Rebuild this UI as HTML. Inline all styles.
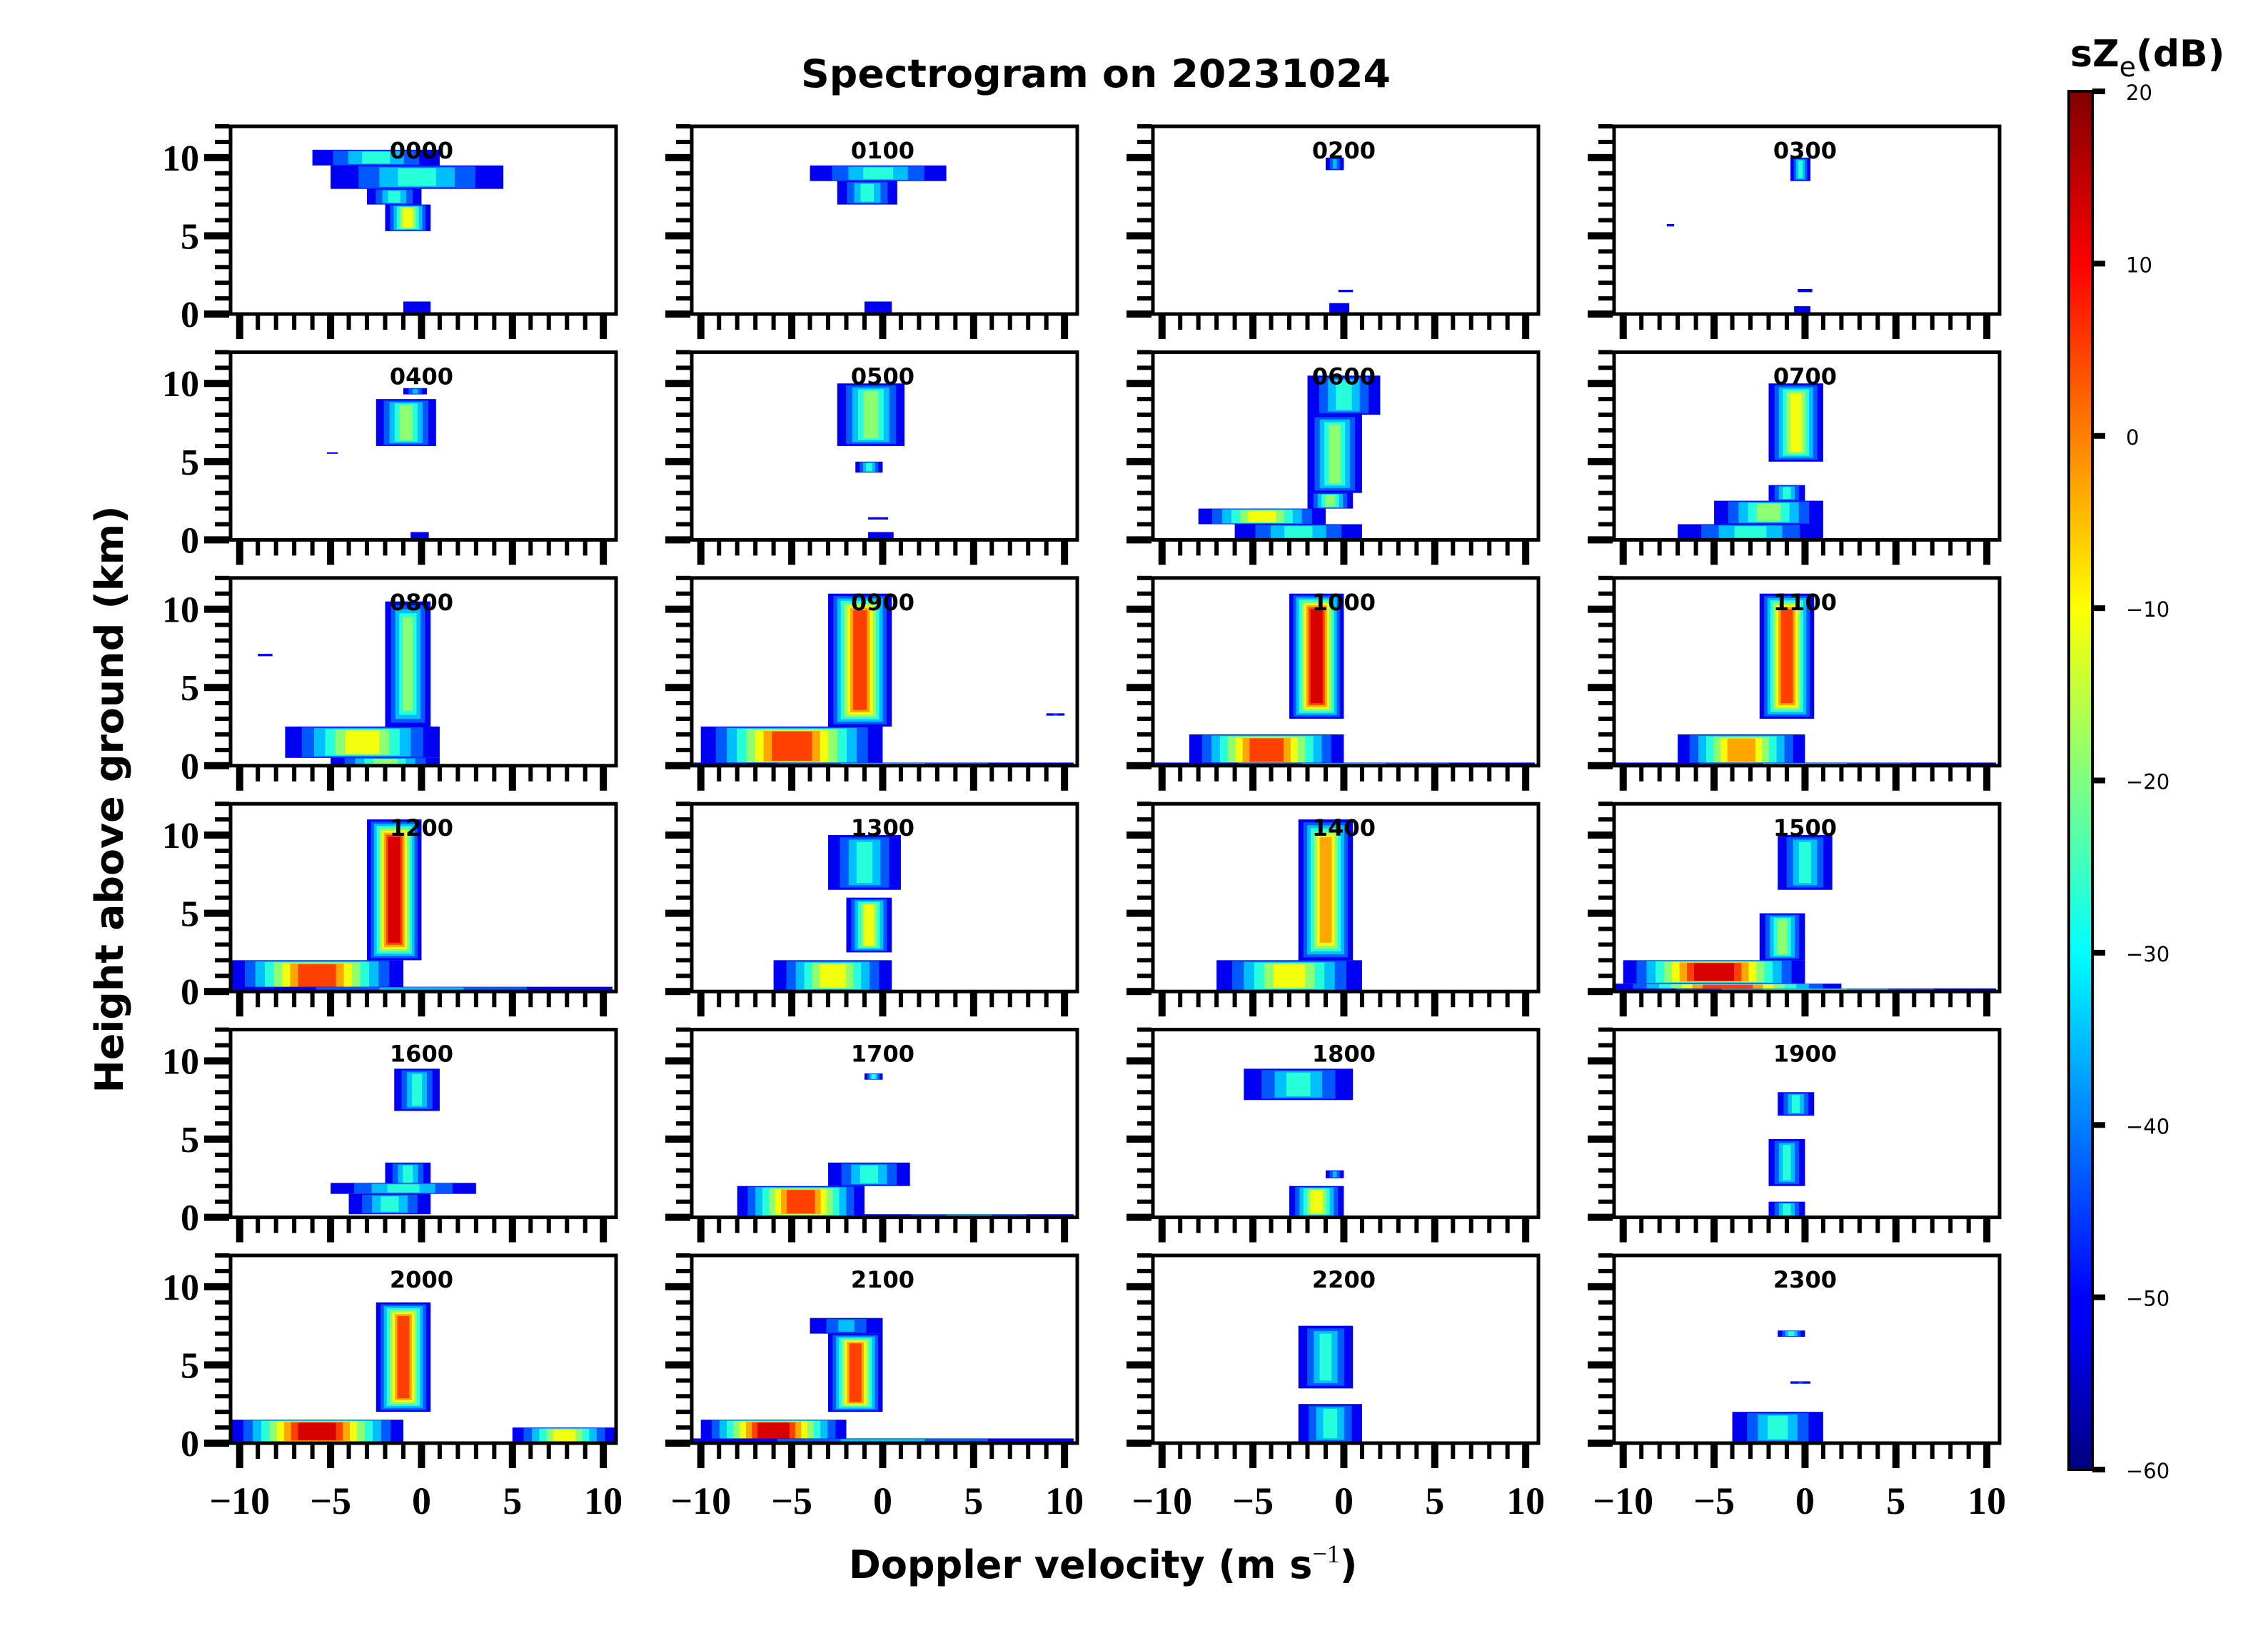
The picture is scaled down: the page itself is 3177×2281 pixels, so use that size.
<!DOCTYPE html>
<html><head><meta charset="utf-8"><style>
html,body{margin:0;padding:0;background:#fff;}
svg{display:block;}
</style></head><body>
<svg id="chart" width="3177" height="2281" viewBox="0 0 3177 2281" xmlns="http://www.w3.org/2000/svg">
<defs>
<linearGradient id="jet" x1="0" y1="1" x2="0" y2="0">
<stop offset="0" stop-color="#000080"/><stop offset="0.11" stop-color="#0000ff"/>
<stop offset="0.125" stop-color="#0000ff"/><stop offset="0.375" stop-color="#00ffff"/>
<stop offset="0.625" stop-color="#ffff00"/><stop offset="0.875" stop-color="#ff0000"/>
<stop offset="1" stop-color="#800000"/>
</linearGradient>
</defs>
<text x="1122" y="122" textLength="826" lengthAdjust="spacingAndGlyphs" font-family="DejaVu Sans, sans-serif" font-weight="bold" font-size="54">Spectrogram on 20231024</text>
<text x="1189" y="2211" font-family="DejaVu Sans, sans-serif" font-weight="bold" font-size="54">Doppler velocity (m s<tspan font-size="36" dy="-22" font-family="Liberation Serif, serif" font-weight="normal">−1</tspan><tspan dy="22">)</tspan></text>
<text transform="translate(172,1120) rotate(-90)" text-anchor="middle" textLength="823" lengthAdjust="spacingAndGlyphs" font-family="DejaVu Sans, sans-serif" font-weight="bold" font-size="54">Height above ground (km)</text>
<g id="panels"></g>
<g id="cbar"></g>
</svg>
<script>
const panelLabels = ["0000","0100","0200","0300","0400","0500","0600","0700","0800","0900","1000","1100","1200","1300","1400","1500","1600","1700","1800","1900","2000","2100","2200","2300"];
// segments per panel: [hBottom km, hTop km, vLeft m/s, vRight m/s, peak dB]
const seg0000 = [[9.5,10.5,-6,1,-30],[8,9.5,-5,4.5,-25],[7,8,-3,0,-30],[5.3,7,-2,0.5,-12],[0,0.8,-1,0.5,-50]];
const seg0100 = [[8.5,9.5,-4,3.5,-30],[7,8.5,-2.5,0.8,-28],[0,0.8,-1,0.5,-50]];
const seg0200 = [[9.2,10,-1,0,-35],[1.4,1.55,-0.3,0.5,-50],[0,0.7,-0.8,0.3,-50]];
const seg0300 = [[8.5,10,-0.8,0.3,-30],[1.4,1.6,-0.4,0.4,-50],[0,0.5,-0.6,0.3,-50],[5.6,5.75,-7.6,-7.2,-50]];
const seg0400 = [[9.3,9.7,-1,0.3,-35],[6,9,-2.5,0.8,-22],[5.5,5.6,-5.2,-4.6,-50],[0,0.5,-0.6,0.4,-50]];
const seg0500 = [[6,10,-2.5,1.2,-20],[4.3,5,-1.5,0,-30],[1.3,1.45,-0.8,0.3,-50],[0,0.5,-0.8,0.6,-50]];
const seg0600 = [[8,10.5,-2,2,-30],[3,8,-2,1,-22],[2,3,-2,0.5,-22],[1,2,-8,-1,-15],[0,1,-6,1,-30]];
const seg0700 = [[5,10,-2,1,-15],[2.5,3.5,-2,0,-25],[1,2.5,-5,1,-20],[0,1,-7,1,-30]];
const seg0800 = [[2.5,10.5,-2,0.5,-20],[0.5,2.5,-7.5,1,-8],[0,0.5,-5,1,-20],[7,7.15,-9,-8.2,-50]];
const seg0900 = [[2.5,11,-3,0.5,8],[0,2.5,-10,0,3],[0,0.2,-10.5,10.5,-35],[3.2,3.35,9,10,-45]];
const seg1000 = [[3,11,-3,0,10],[0,2,-8.5,0,3],[0,0.2,-10.5,10.5,-35]];
const seg1100 = [[3,11,-2.5,0.5,8],[0,2,-7,0,-5],[0,0.2,-10.5,10.5,-35]];
const seg1200 = [[2,11,-3,0,10],[0,2,-10.5,-1,6],[0,0.3,-10.5,10.5,-35]];
const seg1300 = [[6.5,10,-3,1,-30],[2.5,6,-2,0.5,-15],[0,2,-6,0.5,-10]];
const seg1400 = [[2,11,-2.5,0.5,-5],[0,2,-7,1,-8]];
const seg1500 = [[6.5,10,-1.5,1.5,-30],[2,5,-2.5,0,-20],[0.5,2,-10,0,10],[0,0.5,-10.5,2,5],[0,0.2,-10.5,10.5,-30]];
const seg1600 = [[6.8,9.5,-1.5,1,-30],[2,3.5,-2,0.5,-25],[1.5,2.2,-5,3,-25],[0.2,1.5,-4,0.5,-30]];
const seg1700 = [[8.8,9.2,-1,0,-30],[2,3.5,-3,1.5,-25],[0,2,-8,-1,3],[0,0.2,-1,10.5,-35]];
const seg1800 = [[7.5,9.5,-5.5,0.5,-25],[2.5,3,-1,0,-35],[0,2,-3,0,-15]];
const seg1900 = [[6.5,8,-1.5,0.5,-30],[2,5,-2,0,-30],[0,1,-2,0,-30]];
const seg2000 = [[2,9,-2.5,0.5,8],[0,1.5,-10.5,-1,12],[0,1,5,10.7,-15]];
const seg2100 = [[7,8,-4,0,-35],[2,7,-3,0,8],[0,1.5,-10,-2,12],[0,0.3,-10.5,10.5,-35]];
const seg2200 = [[3.5,7.5,-2.5,0.5,-25],[0,2.5,-2.5,1,-25]];
const seg2300 = [[6.8,7.2,-1.5,0,-30],[3.8,3.95,-0.8,0.3,-45],[0,2,-4,1,-30]];
const panelSegs = [seg0000,seg0100,seg0200,seg0300,seg0400,seg0500,seg0600,seg0700,seg0800,seg0900,seg1000,seg1100,seg1200,seg1300,seg1400,seg1500,seg1600,seg1700,seg1800,seg1900,seg2000,seg2100,seg2200,seg2300];
const xTickLabels = ["−10","−5","0","5","10"];
const xTickValues = [-10,-5,0,5,10];
const yTickValues = [0,5,10];
const cbarTicks = [20,10,0,-10,-20,-30,-40,-50,-60];

const NS="http://www.w3.org/2000/svg";
const XMIN=-10.5, XMAX=10.7, YMIN=0, YMAX=12;
const PW=540, PH=263, X0=323, Y0=177, DX=646, DY=316.4;
function mk(tag,attrs,parent){const e=document.createElementNS(NS,tag);for(const k in attrs)e.setAttribute(k,attrs[k]);parent.appendChild(e);return e;}
function jet(t){t=Math.max(0,Math.min(1,t));
  const f=(x)=>Math.max(0,Math.min(1,x));
  const r=f(Math.min(4*t-1.5,-4*t+4.5)),g=f(Math.min(4*t-0.5,-4*t+3.5)),b=f(Math.min(4*t+0.5,-4*t+2.5));
  return `rgb(${Math.round(r*255)},${Math.round(g*255)},${Math.round(b*255)})`;}
function dbT(v){return (v+60)/80;}
const panels=document.getElementById('panels');
panelLabels.forEach((lab,i)=>{
  const r=Math.floor(i/4),c=i%4;
  const px=X0+c*DX, py=Y0+r*DY;
  const sx=v=>px+(v-XMIN)/(XMAX-XMIN)*PW;
  const sy=h=>py+PH-(h-YMIN)/(YMAX-YMIN)*PH;
  const g=mk('g',{},panels);
  
  
  panelSegs[i].forEach(s=>{
    const [h0,h1,vl,vr,pk]=s;
    const cx=(vl+vr)/2, hw=(vr-vl)/2;
    const levels=[];
    for(let L=-55;L<=pk;L+=8)levels.push(L);
    if(levels.length===0)levels.push(pk);
    levels.forEach((L,k)=>{
      const frac=levels.length>1?k/(levels.length-1):0;
      const w=hw*(1-0.78*Math.pow(frac,0.8));
      const hh=(h1-h0)*(1-0.25*frac);
      const hm=(h0+h1)/2;
      const yTop=sy(Math.min(h1,hm+hh/2)), yBot=sy(Math.max(h0,hm-hh/2));
      const rc=mk('rect',{x:sx(cx-w),y:yTop,width:Math.max(1.5,sx(cx+w)-sx(cx-w)),height:Math.max(2,yBot-yTop),fill:jet(dbT(L+4))},g);
      
      
    });
  });
  const fr=mk('rect',{x:px,y:py,width:PW,height:PH,fill:'none',stroke:'#000','stroke-width':5},g);
  
  
  for(let v=-10;v<=10;v++){
    const major=v%5===0;
    const t=mk('rect',{x:sx(v)-(major?5:3),y:py+PH+2,width:major?10:6,height:major?33:20,fill:'#000'},g);
    
    
  }
  for(let h=0;h<=12;h++){
    const major=h%5===0;
    const t=mk('rect',{x:px-(major?35:20)-2,y:sy(h)-(major?5:3),width:major?35:20,height:major?10:6,fill:'#000'},g);
    
    
  }
  const tl=mk('text',{x:sx(0),y:py+45,'text-anchor':'middle','font-family':'DejaVu Sans, sans-serif','font-weight':'bold','font-size':32},g);
  tl.textContent=lab;
  
  
  if(c===0){
    yTickValues.forEach(h=>{
      const t=mk('text',{x:px-44,y:sy(h)+18,'text-anchor':'end','font-family':'Liberation Serif, serif','font-weight':'bold','font-size':52},g);
      t.textContent=String(h);
      
      
    });
  }
  if(r===5){
    xTickValues.forEach((v,k)=>{
      const t=mk('text',{x:sx(v),y:2121,'text-anchor':'middle','font-family':'Liberation Serif, serif','font-weight':'bold','font-size':54},g);
      t.textContent=xTickLabels[k];
      
      
    });
  }
});
const cb=document.getElementById('cbar');
const CBX=2898, CBW=33, CBT=128, CBB=2059;
const cby=v=>CBB-(v+60)/80*(CBB-CBT);
const bar=mk('rect',{x:CBX,y:CBT,width:CBW,height:CBB-CBT,fill:'url(#jet)',stroke:'#000','stroke-width':4},cb);


cbarTicks.forEach(v=>{
  const t=mk('rect',{x:CBX+CBW,y:cby(v)-4,width:18,height:8,fill:'#000'},cb);
  
  
  const l=mk('text',{x:2978,y:cby(v)+12,'font-family':'DejaVu Sans, sans-serif','font-size':29},cb);
  l.textContent=(v<0?'−':'')+Math.abs(v);
  
  
});
const ct=mk('text',{x:2900,y:93,'font-family':'DejaVu Sans, sans-serif','font-weight':'bold','font-size':52},cb);
ct.innerHTML='sZ<tspan font-size="38" dy="14" font-weight="normal">e</tspan><tspan dy="-14">(dB)</tspan>';


</script>
</body></html>
